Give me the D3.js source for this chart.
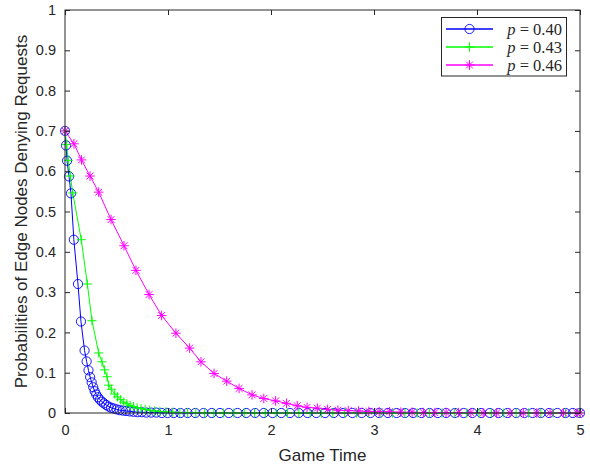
<!DOCTYPE html>
<html><head><meta charset="utf-8">
<script src="https://cdn.jsdelivr.net/npm/d3@7"></script>
<style>body{margin:0;background:#fff;} svg{display:block;}</style>
</head><body>
<script>
// ---- data ----
const xTicks = [0, 1, 2, 3, 4, 5];
const yTicks = [0, 0.1, 0.2, 0.3, 0.4, 0.5, 0.6, 0.7, 0.8, 0.9, 1];
const seriesNames = ["p = 0.40", "p = 0.43", "p = 0.46"];

const tBlue = [0,0.010,0.020,0.039,0.058,0.086,0.126,0.155,0.190,0.210,0.228,0.244,0.259,0.274,0.288,0.303,0.320,0.339,0.358,0.378,0.400,0.423,0.448,0.474,0.501,0.530,0.561,0.594,0.629,0.666,0.705,0.746,0.790,0.837,0.887,0.940,0.995,1.055,1.120,1.190,1.265,1.345,1.425,1.505,1.590,1.675,1.760,1.845,1.930,2.015,2.100,2.185,2.270,2.355,2.440,2.525,2.610,2.700,2.790,2.880,2.965,3.050,3.135,3.220,3.300,3.380,3.460,3.540,3.620,3.700,3.785,3.870,3.955,4.040,4.125,4.210,4.295,4.380,4.460,4.540,4.620,4.700,4.780,4.860,4.930,5.000];
const vBlue = [0.700,0.664,0.626,0.587,0.545,0.430,0.320,0.227,0.155,0.128,0.106,0.089,0.076,0.064,0.054,0.046,0.039,0.033,0.028,0.024,0.020,0.016,0.013,0.011,0.009,0.007,0.006,0.005,0.004,0.003,0.002,0.002,0.001,0.001,0.001,0,0,0,0,0,0,0,0,0,0,0,0,0,0,0,0,0,0,0,0,0,0,0,0,0,0,0,0,0,0,0,0,0,0,0,0,0,0,0,0,0,0,0,0,0,0,0,0,0,0,0];

const tGreen = [0,0.016,0.031,0.052,0.075,0.158,0.217,0.262,0.327,0.359,0.385,0.408,0.424,0.450,0.482,0.510,0.540,0.570,0.600,0.632,0.665,0.700,0.738,0.778,0.822,0.870,0.922,0.980,1.045,1.115,1.190,1.270,1.355,1.445,1.540,1.640,1.740,1.840,1.945,2.050,2.160,2.270,2.380,2.490,2.600,2.715,2.830,2.945,3.060,3.180,3.300,3.420,3.540,3.660,3.780,3.900,4.020,4.140,4.260,4.380,4.500,4.620,4.740,4.860,4.980,5.000];
const vGreen = [0.700,0.666,0.627,0.588,0.546,0.430,0.320,0.229,0.149,0.127,0.107,0.090,0.069,0.059,0.047,0.040,0.033,0.027,0.023,0.019,0.016,0.013,0.011,0.009,0.007,0.005,0.004,0.003,0.002,0.001,0.001,0.001,0,0,0,0,0,0,0,0,0,0,0,0,0,0,0,0,0,0,0,0,0,0,0,0,0,0,0,0,0,0,0,0,0,0];

const tMag = [0,0.087,0.160,0.243,0.327,0.447,0.573,0.689,0.816,0.938,1.077,1.210,1.320,1.447,1.570,1.690,1.816,1.930,2.045,2.150,2.255,2.350,2.450,2.550,2.650,2.750,2.850,2.950,3.050,3.150,3.260,3.370,3.480,3.590,3.700,3.820,3.940,4.060,4.190,4.320,4.450,4.580,4.710,4.840,4.970,5.000];
const vMag = [0.700,0.668,0.628,0.588,0.548,0.480,0.415,0.354,0.294,0.242,0.198,0.161,0.127,0.098,0.079,0.061,0.045,0.036,0.030,0.024,0.018,0.014,0.012,0.009,0.007,0.006,0.005,0.004,0.003,0.003,0.002,0.002,0.001,0.001,0.001,0.001,0.001,0,0,0,0,0,0,0,0,0];

// ---- chart ----
const W = 590, H = 468;
const m = {left: 65, right: 10, top: 10, bottom: 55};
const iw = W - m.left - m.right, ih = H - m.top - m.bottom;
const axisColor = "#262626";

const svg = d3.select("body").append("svg").attr("width", W).attr("height", H);
const g = svg.append("g").attr("transform", `translate(${m.left},${m.top})`);

const x = d3.scaleLinear().domain([0, 5]).range([0, iw]);
const y = d3.scaleLinear().domain([0, 1]).range([ih, 0]);

const series = [
  {name: seriesNames[0], color: "#0000ff", marker: "circle", pts: tBlue.map((t, i) => [t, vBlue[i]])},
  {name: seriesNames[1], color: "#00ff00", marker: "plus", pts: tGreen.map((t, i) => [t, vGreen[i]])},
  {name: seriesNames[2], color: "#ff00ff", marker: "star", pts: tMag.map((t, i) => [t, vMag[i]])}
];

function drawMarker(sel, type, cx, cy, color) {
  if (type === "circle") {
    sel.append("circle").attr("cx", cx).attr("cy", cy).attr("r", 4.6)
      .attr("fill", "none").attr("stroke", color).attr("stroke-width", 0.9);
  } else if (type === "plus") {
    const r = 4.6;
    sel.append("path").attr("d", `M${cx - r},${cy}H${cx + r}M${cx},${cy - r}V${cy + r}`)
      .attr("stroke", color).attr("stroke-width", 1).attr("fill", "none");
  } else {
    const r = 4.8, d = 3.4;
    sel.append("path").attr("d",
      `M${cx - r},${cy}H${cx + r}M${cx},${cy - r}V${cy + r}M${cx - d},${cy - d}L${cx + d},${cy + d}M${cx - d},${cy + d}L${cx + d},${cy - d}`)
      .attr("stroke", color).attr("stroke-width", 1).attr("fill", "none");
  }
}

const line = d3.line().x(d => x(d[0])).y(d => y(d[1]));
const plot = g.append("g");
series.forEach(s => {
  plot.append("path").datum(s.pts).attr("d", line)
    .attr("fill", "none").attr("stroke", s.color).attr("stroke-width", 1);
});
series.forEach(s => {
  const mg = plot.append("g");
  s.pts.forEach(p => drawMarker(mg, s.marker, x(p[0]), y(p[1]), s.color));
});

// axes box
g.append("rect").attr("x", 0).attr("y", 0).attr("width", iw).attr("height", ih)
  .attr("fill", "none").attr("stroke", axisColor).attr("stroke-width", 1);

const tickLen = 5;
const fontTick = "Liberation Sans, Arial, sans-serif";
g.append("g").attr("transform", `translate(0,${ih})`)
  .call(d3.axisBottom(x).tickValues(xTicks).tickSize(-tickLen).tickPadding(12).tickFormat(d3.format("d")));
g.append("g")
  .call(d3.axisLeft(y).tickValues(yTicks).tickSize(-tickLen).tickPadding(9).tickFormat(d => d === 0 || d === 1 ? String(d) : d.toFixed(1)));
// top and right ticks
g.append("g").call(d3.axisTop(x).tickValues(xTicks).tickSize(-tickLen).tickFormat(""));
g.append("g").attr("transform", `translate(${iw},0)`).call(d3.axisRight(y).tickValues(yTicks).tickSize(-tickLen).tickFormat(""));
g.selectAll(".domain").remove();
g.selectAll(".tick line").attr("stroke", axisColor);
g.selectAll(".tick text").attr("fill", axisColor).style("font-family", fontTick).style("font-size", "14.5px");

// labels
svg.append("text").attr("x", m.left + iw / 2).attr("y", 461).attr("text-anchor", "middle")
  .style("font-family", fontTick).style("font-size", "17px").attr("fill", axisColor).text("Game Time");
svg.append("text").attr("transform", `translate(27,${m.top + ih / 2}) rotate(-90)`).attr("text-anchor", "middle")
  .style("font-family", fontTick).style("font-size", "17px").attr("fill", axisColor)
  .text("Probabilities of Edge Nodes Denying Requests");

// legend
const lg = svg.append("g");
lg.append("rect").attr("x", 441.5).attr("y", 17.5).attr("width", 125).attr("height", 58.5)
  .attr("fill", "#fff").attr("stroke", axisColor).attr("stroke-width", 1);
series.forEach((s, i) => {
  const yl = 29 + i * 18;
  lg.append("line").attr("x1", 446).attr("x2", 493).attr("y1", yl).attr("y2", yl)
    .attr("stroke", s.color).attr("stroke-width", 1.3);
  drawMarker(lg, s.marker, 469.5, yl, s.color);
  const parts = s.name.split(" = ");
  const t = lg.append("text").attr("x", 562).attr("y", yl + 5.5).attr("text-anchor", "end")
    .style("font-family", "Liberation Serif, Times New Roman, serif").style("font-size", "16.5px").attr("fill", axisColor);
  t.append("tspan").style("font-style", "italic").text(parts[0]);
  t.append("tspan").text(" = " + parts[1]);
});
</script>
</body></html>
